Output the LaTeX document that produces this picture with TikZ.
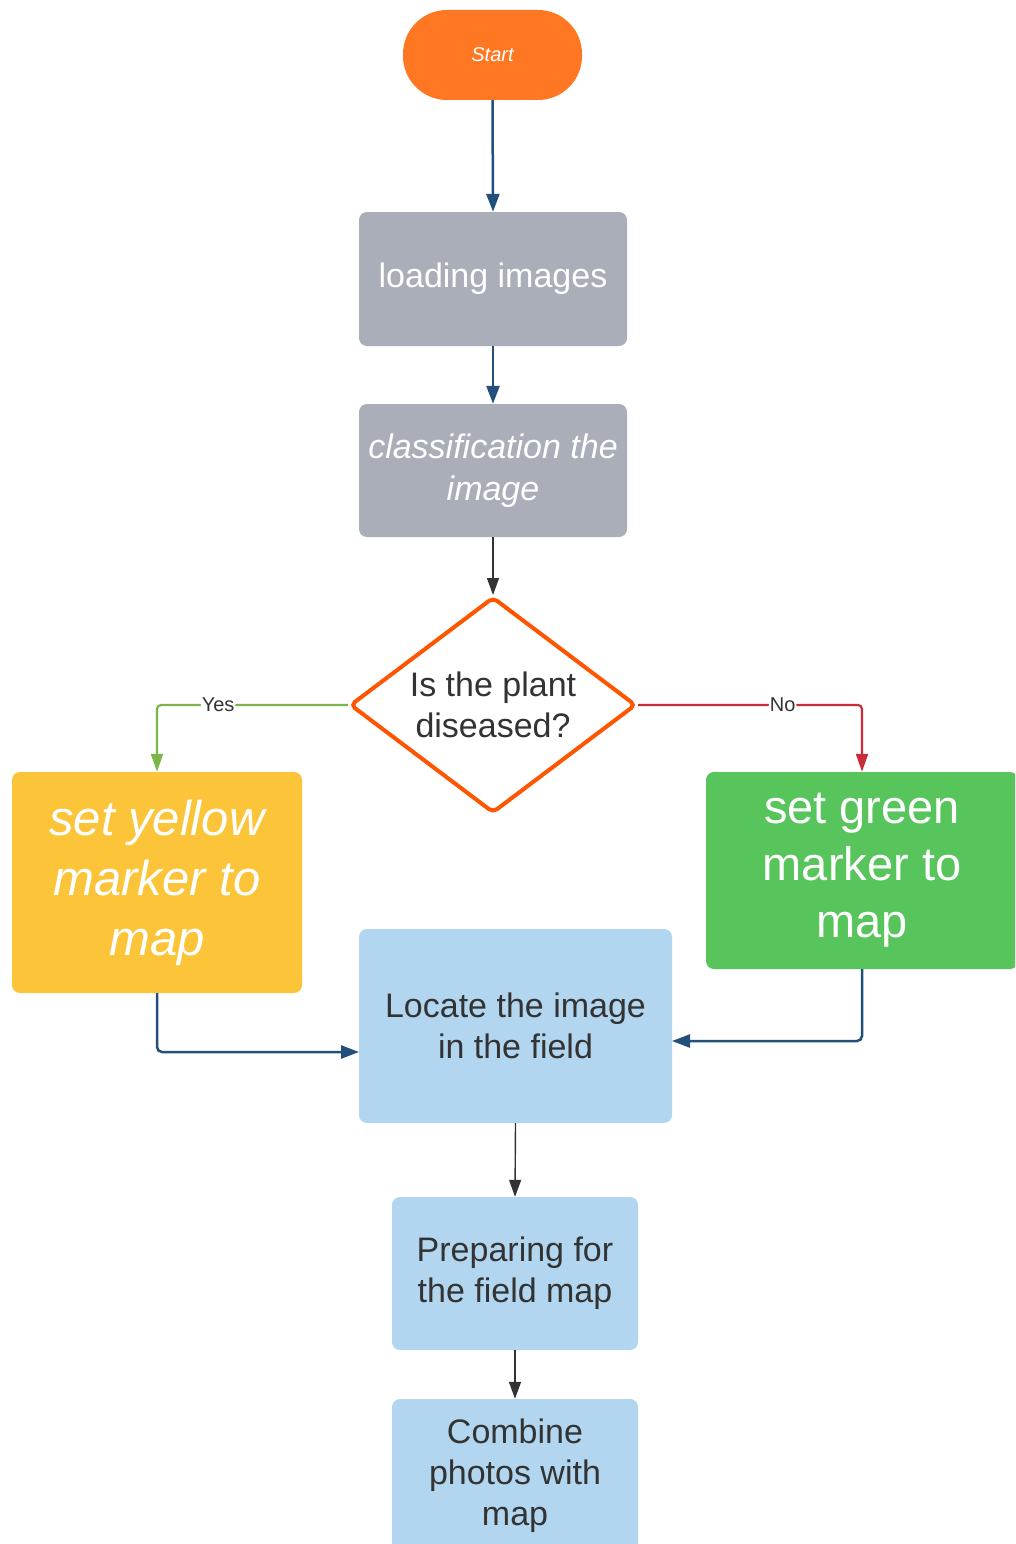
\documentclass[tikz,border=0pt]{standalone}
\usepackage{fontspec}
\setmainfont{Liberation Sans}
\usetikzlibrary{arrows.meta,shapes.geometric}
\definecolor{startor}{HTML}{FF7722}
\definecolor{diaor}{HTML}{FF5500}
\definecolor{boxgray}{HTML}{A9AEB8}
\definecolor{boxyel}{HTML}{FCC438}
\definecolor{boxgrn}{HTML}{57C45C}
\definecolor{boxblue}{HTML}{B2D6EF}
\definecolor{lineblue}{HTML}{22507A}
\definecolor{linegrn}{HTML}{7AB648}
\definecolor{linered}{HTML}{C92D39}
\definecolor{txtdark}{HTML}{333333}
\tikzset{
  box/.style={rectangle, rounded corners=8pt, draw=none, inner sep=0pt, align=center},
  bigtxt/.style={font=\fontsize{34}{41}\selectfont},
  bluearr/.style={draw=lineblue, line width=2.5pt, -{Triangle[length=18pt,width=13pt]}},
  darkarr/.style={draw=txtdark, line width=1.4pt, -{Triangle[length=17pt,width=12pt]}},
  grnarr/.style={draw=linegrn, line width=2.2pt, -{Triangle[length=18pt,width=12pt]}},
  redarr/.style={draw=linered, line width=2.2pt, -{Triangle[length=18pt,width=12pt]}},
  edgelbl/.style={fill=white, inner sep=1pt, text=txtdark, font=\fontsize{20}{24}\selectfont}
}
\begin{document}
\begin{tikzpicture}[x=1pt,y=-1pt]
\clip (0,0) rectangle (1015,1544);
\fill[white] (0,0) rectangle (1015,1544);
% nodes
\node[box, rounded corners=44pt, fill=startor, minimum width=179pt, minimum height=90pt,
      text=white, font=\fontsize{20}{24}\selectfont\itshape] (start) at (492.5,55) {Start};
\node[box, fill=boxgray, minimum width=268pt, minimum height=134pt, text=white, bigtxt] (load) at (493,279) {loading images};
\node[box, fill=boxgray, minimum width=268pt, minimum height=133pt, text=white, font=\fontsize{34}{42}\selectfont\itshape] (cls) at (493,470.5) {classification the\\image};
\node[diamond, aspect=1.31, draw=diaor, line width=4pt, fill=white, rounded corners=5pt, inner sep=0pt,
      minimum width=286pt, minimum height=216pt, align=center, text=txtdark, bigtxt] (dia) at (493,705) {Is the plant\\diseased?};
\node[box, fill=boxyel, minimum width=290pt, minimum height=221pt, text=white,
      font=\fontsize{49}{60}\selectfont\itshape] (yel) at (157,882.5) {set yellow\\marker to\\map};
\node[box, fill=boxgrn, minimum width=312pt, minimum height=197pt, text=white,
      font=\fontsize{47}{57}\selectfont] (grn) at (862,870.5) {set green\\marker to\\map};
\node[box, fill=boxblue, minimum width=313pt, minimum height=194pt, text=txtdark, bigtxt] (loc) at (515.5,1026) {Locate the image\\in the field};
\node[box, fill=boxblue, minimum width=246pt, minimum height=153pt, text=txtdark, bigtxt] (prep) at (515,1273.5) {Preparing for\\the field map};
\node[box, fill=boxblue, minimum width=246pt, minimum height=153pt, text=txtdark, bigtxt] (comb) at (515,1475.5) {Combine\\photos with\\map};
\coordinate (yin) at (359,1052);
\coordinate (gin) at (672,1041);
% connectors
\draw[bluearr] (start.south) -- (load.north);
\draw[bluearr] (load.south) -- (cls.north);
\draw[darkarr] (cls.south) -- (dia.north);
\draw[grnarr, rounded corners=4pt] (dia.west) -| node[edgelbl, pos=0.34] (lyes) {Yes} (yel.north);
\draw[redarr, rounded corners=4pt] (dia.east) -| node[edgelbl, pos=0.323] (lno) {No} (grn.north);
\draw[bluearr, rounded corners=5pt] (yel.south) |- (yin);
\draw[bluearr, rounded corners=5pt] (grn.south) |- (gin);
\draw[darkarr] (loc.south) -- (prep.north);
\draw[darkarr] (prep.south) -- (comb.north);
\end{tikzpicture}
\end{document}
